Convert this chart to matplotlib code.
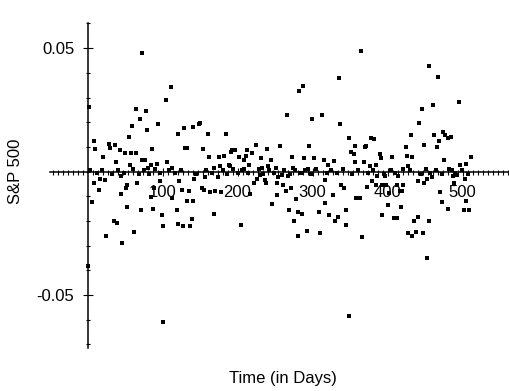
import matplotlib
matplotlib.use('Agg')
import matplotlib.pyplot as plt
import numpy as np

# daily returns, above the axis
up_days = [2, 9, 10, 21, 28, 30, 36, 38, 43, 50, 55, 58, 57, 59, 64, 65, 70, 73, 77, 78,
           79, 80, 85, 86, 92, 94, 104, 111, 72, 106, 113, 121, 128, 130, 132, 141, 148, 150,
           154, 161, 162, 168, 175, 176, 182, 184, 188, 190, 191, 192, 197, 202, 209, 211,
           212, 215, 208, 219, 224, 231, 232, 239, 240, 244, 251, 257, 266, 273, 274, 288,
           294, 295, 299, 302, 313, 315, 321, 328, 337, 348, 282, 287, 335, 364, 455, 467,
           495, 351, 355, 357, 356, 370, 371, 369, 377, 378, 382, 384, 390, 391, 406, 420,
           424, 426, 427, 431, 433, 442, 446, 449, 460, 462, 466, 469, 474, 477, 475, 480,
           484, 482, 497, 504, 511]
up_ret = [0.0262, 0.0125, 0.0092, 0.0059, 0.0113, 0.0096, 0.0107, 0.0037, 0.0087, 0.0075,
          0.0141, 0.0075, 0.0026, 0.0185, 0.0252, 0.0075, 0.0213, 0.0048, 0.0048, 0.0246,
          0.0169, 0.0015, 0.0026, 0.0092, 0.0032, 0.0191, 0.0291, 0.0341, 0.0479, 0.0037,
          0.0015, 0.0152, 0.0175, 0.0096, 0.0096, 0.0180, 0.0192, 0.0198, 0.0092, 0.0152,
          0.0059, 0.0015, 0.0059, 0.0021, 0.0064, 0.0152, 0.0026, 0.0021, 0.0080, 0.0087,
          0.0087, 0.0059, 0.0048, 0.0064, 0.0087, 0.0026, 0.0010, 0.0075, 0.0109, 0.0053,
          0.0015, 0.0092, 0.0021, 0.0048, 0.0015, 0.0103, 0.0230, 0.0059, 0.0015, 0.0053,
          0.0010, 0.0103, 0.0213, 0.0053, 0.0230, 0.0048, 0.0026, 0.0043, 0.0191, 0.0136,
          0.0325, 0.0346, 0.0379, 0.0489, 0.0428, 0.0384, 0.0280, 0.0080, 0.0070, 0.0103,
          0.0037, 0.0098, 0.0103, 0.0037, 0.0021, 0.0136, 0.0130, 0.0026, 0.0070, 0.0053,
          0.0059, 0.0010, 0.0098, 0.0064, 0.0021, 0.0148, 0.0059, 0.0196, 0.0252, 0.0109,
          0.0269, 0.0148, 0.0098, 0.0125, 0.0159, 0.0148, 0.0048, 0.0136, 0.0141, 0.0010,
          0.0026, 0.0032, 0.0059]

# below the axis
down_days = [8, 6, 15, 17, 23, 44, 45, 52, 51, 53, 35, 39, 25, 46, 62, 66, 71, 87, 88, 84,
             97, 99, 100, 112, 119, 120, 122, 126, 127, 133, 140, 135, 136, 139, 142, 153,
             155, 163, 157, 170, 169, 174, 101, 1, 204, 178, 216, 222, 226, 230, 236, 238,
             246, 252, 253, 254, 259, 267, 264, 271, 268, 275, 280, 286, 281, 278, 293, 308,
             310, 316, 317, 322, 327, 330, 334, 338, 342, 344, 260, 345, 358, 363, 366, 349,
             400, 393, 408, 412, 418, 402, 417, 435, 440, 455, 427, 433, 438, 447, 453, 470,
             473, 481, 502, 509, 372, 379, 386, 397, 385, 392, 398, 413, 421, 414, 419, 441,
             448, 452, 459, 489, 487, 493, 503, 505]
down_ret = [-0.0045, -0.0124, -0.0074, -0.0029, -0.0034, -0.0090, -0.0018, -0.0056, -0.0065,
            -0.0145, -0.0199, -0.0210, -0.0261, -0.0288, -0.0245, -0.0045, -0.0156, -0.0151,
            -0.0068, -0.0102, -0.0040, -0.0177, -0.0222, -0.0107, -0.0156, -0.0211, -0.0040,
            -0.0074, -0.0222, -0.0118, -0.0118, -0.0079, -0.0222, -0.0194, -0.0029, -0.0068,
            -0.0074, -0.0084, -0.0023, -0.0079, -0.0172, -0.0023, -0.0608, -0.0383, -0.0215,
            -0.0084, -0.0091, -0.0045, -0.0029, -0.0015, -0.0034, -0.0045, -0.0133, -0.0045,
            -0.0095, -0.0023, -0.0015, -0.0018, -0.0078, -0.0068, -0.0155, -0.0199, -0.0165,
            -0.0171, -0.0261, -0.0113, -0.0240, -0.0163, -0.0248, -0.0129, -0.0034, -0.0176,
            -0.0095, -0.0199, -0.0184, -0.0056, -0.0068, -0.0155, -0.0056, -0.0217, -0.0106,
            -0.0106, -0.0265, -0.0586, -0.0134, -0.0177, -0.0188, -0.0188, -0.0144, -0.0086,
            -0.0080, -0.0200, -0.0183, -0.0200, -0.0249, -0.0260, -0.0244, -0.0249, -0.0349,
            -0.0084, -0.0122, -0.0151, -0.0156, -0.0156, -0.0062, -0.0040, -0.0018, -0.0018,
            -0.0056, -0.0056, -0.0056, -0.0056, -0.0056, -0.0018, -0.0079, -0.0040, -0.0045,
            -0.0029, -0.0023, -0.0045, -0.0018, -0.0013, -0.0029, -0.0118]

# days sitting right on the zero line
flat_days = [3, 13, 19, 32, 41, 48, 60, 68, 75, 82, 90, 96, 108, 116, 124, 145, 158, 166,
             180, 186, 194, 200, 206, 214, 228, 234, 242, 248, 262, 270, 276, 284, 290, 298,
             305, 319, 325, 332, 340, 352, 360, 374, 380, 395, 404, 410, 430, 444, 451, 457,
             464, 472, 486, 490, 499, 507]
flat_ret = [0.0008, -0.0006, 0.0005, -0.0009, 0.0007, -0.0005, 0.0010, -0.0008, 0.0006,
            -0.0010, 0.0009, -0.0007, 0.0005, -0.0006, 0.0008, -0.0009, 0.0006, -0.0005,
            0.0007, -0.0008, 0.0010, -0.0006, 0.0005, -0.0007, 0.0009, -0.0010, 0.0006,
            -0.0005, 0.0008, -0.0009, 0.0007, -0.0006, 0.0005, -0.0008, 0.0010, -0.0007,
            0.0006, -0.0005, 0.0009, -0.0010, 0.0007, -0.0006, 0.0008, -0.0009, 0.0005,
            -0.0007, 0.0006, -0.0008, 0.0010, -0.0005, 0.0007, -0.0009, 0.0008, -0.0006,
            0.0005, -0.0010]

x_major = [100, 200, 300, 400, 500]
y_major = [-0.05, 0.05]
y_labels = ['-0.05', '0.05']

plt.rcParams['font.family'] = ['Liberation Sans', 'DejaVu Sans']

fig = plt.figure(figsize=(5.1, 3.91), dpi=100)
ax = fig.add_axes([0, 0, 1, 1])

days = up_days + down_days + flat_days
rets = up_ret + down_ret + flat_ret
ax.scatter(days, rets, s=6, marker='s', c='black', linewidths=0, zorder=3)

ax.set_xlim(-116.7, 563.3)
ax.set_ylim(-0.0889, 0.0695)

# axes cross at the origin, like the old plotting program
for side in ['top', 'right']:
    ax.spines[side].set_visible(False)
ax.spines['left'].set_position(('data', 0))
ax.spines['bottom'].set_position(('data', 0))
ax.spines['left'].set_bounds(-0.0715, 0.06)
ax.spines['bottom'].set_bounds(-50, 563)
ax.spines['left'].set_linewidth(1.1)
ax.spines['bottom'].set_linewidth(1.1)

step = 100 / 15
minor_x = np.concatenate([-np.arange(1, 8) * step, np.arange(1, 85) * step])
ax.set_xticks(x_major)
ax.set_xticks(minor_x, minor=True)
ax.set_yticks(y_major)
ax.set_yticklabels(y_labels)
ax.set_yticks(np.arange(-0.07, 0.065, 0.01), minor=True)

ax.tick_params(axis='x', which='major', direction='inout', length=5.8, width=0.8,
               labelsize=12, pad=7)
ax.tick_params(axis='x', which='minor', direction='inout', length=3.6, width=0.8)
ax.tick_params(axis='y', which='major', direction='inout', length=7.2, width=0.8,
               labelsize=12, pad=6)
ax.tick_params(axis='y', which='minor', direction='inout', length=2.9, width=0.8)
ax.set_facecolor('white')

fig.text(0.03, 0.563, 'S&P 500', rotation=90, ha='center', va='center', fontsize=12)
fig.text(0.554, 0.033, 'Time (in Days)', ha='center', va='center', fontsize=12)

fig.savefig('out.png', dpi=100, facecolor='white')
